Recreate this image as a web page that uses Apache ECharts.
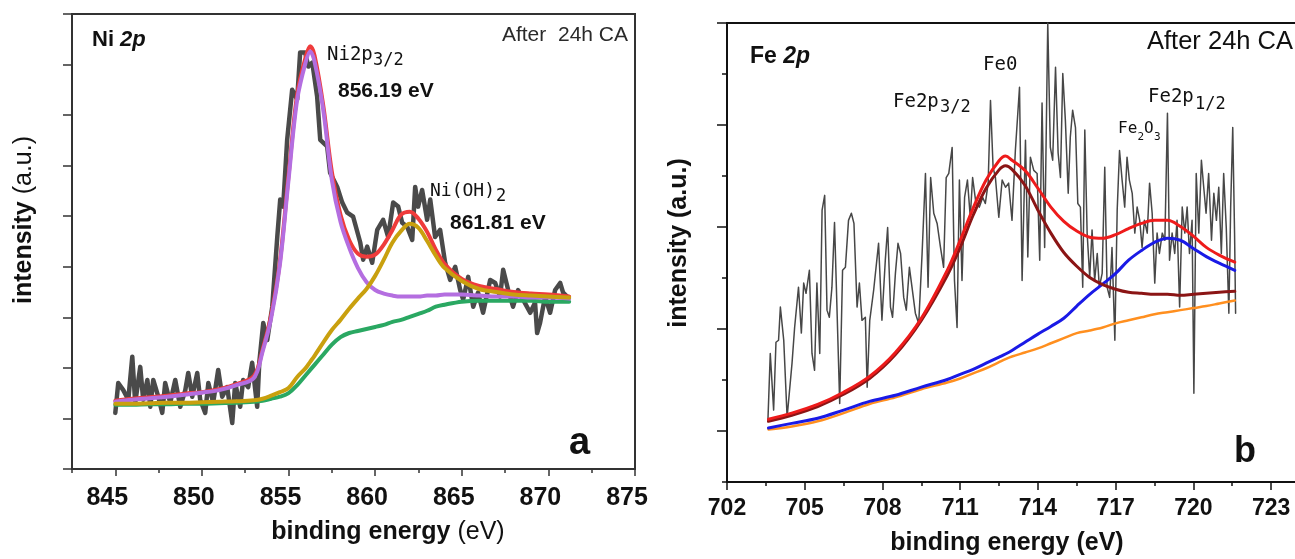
<!DOCTYPE html>
<html>
<head>
<meta charset="utf-8">
<script src="https://cdn.jsdelivr.net/npm/echarts@6/dist/echarts.min.js"></script>
<style>html,body{margin:0;padding:0;background:#fff}#c{width:1295px;height:559px}</style>
</head>
<body>
<div id="c"></div>
<script>
// ---------- Panel a : Ni 2p ----------
const niXTicks = ['845','850','855','860','865','870','875'];
const niDataX = [845.00,845.17,845.46,845.75,845.98,846.15,846.44,846.61,846.85,847.02,
847.19,847.48,847.71,847.88,848.17,848.46,848.75,849.04,849.21,849.44,
849.73,849.90,850.19,850.37,850.65,850.94,851.17,851.46,851.75,851.92,
852.21,852.38,852.67,852.90,853.19,853.31,853.54,853.77,854.06,854.35,
854.52,854.69,854.92,855.21,855.50,855.67,855.96,856.14,856.37,856.65,
856.83,857.23,857.40,857.81,858.10,858.39,858.73,859.14,859.31,859.54,
859.83,860.12,860.46,860.75,861.04,861.33,861.56,861.85,862.14,862.31,
862.48,862.71,863.00,863.18,863.46,863.75,864.04,864.33,864.62,864.91,
865.08,865.37,865.66,865.94,866.23,866.64,866.93,867.21,867.39,867.68,
867.96,868.25,868.54,868.95,869.23,869.35,869.52,869.81,870.10,870.39,
870.68,870.85,871.08];
const niDataY = [1.11,1.70,1.56,1.37,2.22,1.31,2.02,1.37,1.76,1.23,
1.76,1.43,1.11,1.70,1.31,1.76,1.23,1.56,1.90,1.43,
1.90,1.37,1.11,1.70,1.31,1.96,1.43,1.62,0.91,1.70,
1.23,1.76,1.62,2.10,1.23,2.10,2.89,2.55,3.21,4.59,
5.33,5.19,6.51,7.50,7.31,8.24,8.24,7.96,8.04,7.37,
6.51,6.38,5.86,5.58,5.27,5.07,4.99,4.48,4.14,4.40,
4.08,4.73,4.93,4.59,5.27,5.19,4.87,4.79,4.53,5.58,
5.19,5.52,4.93,5.33,4.59,4.73,4.08,3.74,4.00,3.54,
3.35,3.80,3.21,3.49,3.09,3.74,3.68,3.41,3.94,3.54,
3.21,3.54,3.35,3.09,3.29,2.69,2.89,3.41,3.09,3.54,
3.68,3.49,3.41];
const niFitX = [845,846,847,848,849,850,851,852,853,853.5,
854,854.5,855,855.5,856,856.25,856.5,857,857.5,858,
858.5,859,859.5,860,860.5,861,861.5,862,862.5,863,
863.5,864,865,866,867,868,869,870,871.2];
const niPurple = [1.33,1.37,1.40,1.43,1.47,1.51,1.56,1.66,1.80,2.32,
2.99,4.04,5.72,7.31,8.06,8.26,8.06,7.11,5.72,4.89,
4.38,3.98,3.70,3.54,3.47,3.43,3.41,3.41,3.41,3.43,
3.43,3.45,3.45,3.43,3.41,3.41,3.39,3.39,3.37];
const niRed = [1.35,1.39,1.42,1.45,1.49,1.52,1.58,1.68,1.84,2.36,
3.05,4.10,5.80,7.41,8.16,8.36,8.18,7.20,5.88,5.03,
4.53,4.26,4.20,4.24,4.44,4.73,5.03,5.09,4.95,4.69,
4.34,4.06,3.76,3.62,3.56,3.50,3.47,3.45,3.41];
const niGold = [1.29,1.29,1.30,1.31,1.31,1.32,1.33,1.34,1.36,1.39,
1.45,1.52,1.60,1.82,2.00,2.12,2.24,2.50,2.75,2.95,
3.17,3.37,3.56,3.82,4.14,4.48,4.71,4.85,4.77,4.51,
4.22,3.98,3.72,3.56,3.50,3.45,3.43,3.41,3.39];
const niGreen = [1.27,1.27,1.28,1.28,1.29,1.29,1.30,1.31,1.33,1.35,
1.39,1.43,1.50,1.66,1.86,1.96,2.06,2.26,2.46,2.61,
2.69,2.73,2.77,2.81,2.85,2.91,2.95,3.01,3.07,3.13,
3.21,3.25,3.31,3.33,3.33,3.33,3.33,3.31,3.31];

// ---------- Panel b : Fe 2p ----------
const feXTicks = [702,705,708,711,714,717,720,723];
const feDataX = [703.58,703.67,703.80,703.89,703.99,704.06,704.19,704.32,704.51,704.61,
704.76,704.87,704.96,705.05,705.18,705.28,705.38,705.47,705.58,705.67,
705.77,705.86,705.95,706.05,706.15,706.25,706.35,706.46,706.57,706.69,
706.80,706.90,707.02,707.11,707.21,707.34,707.41,707.51,707.66,707.85,
707.98,708.11,708.20,708.31,708.39,708.50,708.60,708.70,708.82,708.92,
709.04,709.14,709.27,709.40,709.53,709.66,709.76,709.86,709.98,710.11,
710.24,710.36,710.46,710.56,710.69,710.78,710.88,710.97,711.07,711.17,
711.28,711.39,711.48,711.61,711.74,711.87,711.97,712.08,712.17,712.27,
712.36,712.49,712.62,712.75,712.87,713.00,713.13,713.29,713.39,713.52,
713.61,713.71,713.84,713.97,714.07,714.16,714.26,714.38,714.48,714.57,
714.68,714.78,714.87,714.96,715.06,715.17,715.25,715.34,715.45,715.54,
715.64,715.73,715.81,715.90,716.00,716.09,716.19,716.29,716.37,716.48,
716.58,716.67,716.77,716.86,716.97,717.06,717.15,717.25,717.35,717.44,
717.53,717.64,717.74,717.83,717.93,718.02,718.11,718.22,718.31,718.41,
718.51,718.60,718.69,718.80,718.90,719.00,719.08,719.18,719.28,719.37,
719.47,719.57,719.67,719.76,719.85,719.95,720.02,720.11,720.21,720.31,
720.40,720.49,720.59,720.70,720.79,720.89,720.98,721.08,721.17,721.27,
721.37,721.44,721.52,721.59,721.63];
const feDataY = [1.21,2.52,1.41,2.74,2.78,3.43,2.78,1.27,2.33,3.03,
3.82,2.92,3.90,3.70,4.15,2.52,2.19,3.90,2.52,5.33,
5.62,3.37,3.23,3.82,5.09,3.31,1.54,4.15,4.21,5.13,
5.27,5.07,3.43,3.90,3.17,3.23,1.86,3.17,3.76,4.68,
3.17,4.35,4.99,3.43,3.23,4.09,4.68,4.48,3.62,3.37,
4.21,3.82,3.31,3.11,4.48,6.05,3.82,5.97,5.27,5.07,
4.60,4.21,5.97,6.05,6.56,3.95,3.03,5.92,3.95,5.58,
5.92,5.19,5.97,5.46,5.39,5.58,5.46,5.86,7.48,6.17,
5.97,5.19,5.92,5.78,5.86,5.13,6.50,7.74,3.95,6.70,
4.41,6.37,6.11,6.05,4.35,7.43,4.60,9.00,6.56,6.31,
8.13,6.45,5.97,8.01,7.09,5.66,6.76,7.29,6.95,5.46,
5.39,3.82,6.90,4.88,4.01,4.94,3.95,4.48,3.82,4.09,
6.17,3.82,3.62,4.60,2.78,5.33,6.50,5.92,5.39,6.37,
5.92,5.66,4.88,5.39,5.13,4.60,5.13,4.88,5.86,5.27,
3.90,4.88,4.48,4.88,4.74,7.23,4.35,4.88,4.48,5.13,
3.43,5.39,4.88,5.39,4.48,5.13,1.74,6.05,4.88,6.31,
5.78,5.27,6.05,4.74,5.66,5.13,5.78,4.48,6.05,4.99,
3.31,5.39,6.95,4.88,3.31];
const feFitX = [703.6,704.5,705.5,706.5,707.5,708.5,709.5,710.5,711.0,711.5,
712.0,712.5,712.75,713.0,713.5,714.0,714.5,715.0,715.5,716.0,716.5,
717.0,717.5,718.0,718.5,719.0,719.5,720.0,720.5,721.0,721.6];
const feOrange = [1.03,1.09,1.19,1.35,1.53,1.66,1.82,1.95,2.03,2.13,
2.23,2.35,2.41,2.46,2.54,2.62,2.72,2.82,2.92,2.97,3.03,
3.11,3.17,3.23,3.29,3.33,3.37,3.41,3.45,3.50,3.56];
const feBlue = [1.06,1.15,1.25,1.41,1.58,1.70,1.86,2.01,2.11,2.21,
2.33,2.45,2.51,2.58,2.74,2.90,3.05,3.21,3.45,3.68,3.88,
4.09,4.35,4.54,4.70,4.78,4.74,4.58,4.42,4.29,4.15];
const feRed = [1.23,1.35,1.52,1.76,2.07,2.54,3.21,4.15,4.74,5.37,
5.92,6.30,6.39,6.31,6.11,5.76,5.39,5.11,4.92,4.80,4.78,
4.85,4.97,5.07,5.13,5.13,5.01,4.82,4.60,4.45,4.31];
const feDarkRed = [1.19,1.31,1.48,1.72,2.03,2.50,3.17,4.05,4.60,5.23,
5.76,6.12,6.20,6.13,5.82,5.33,4.88,4.50,4.23,4.01,3.87,
3.78,3.72,3.70,3.68,3.68,3.66,3.68,3.70,3.72,3.74];

// ---------- helpers ----------
const zip = (xs, ys) => xs.map((x, i) => [x, ys[i]]);
const SANS = '"Liberation Sans", Arial, Helvetica, sans-serif';
const MONO = '"DejaVu Sans Mono", monospace';

// category positions for Ni x-axis (majors every 5, minors in between)
const niStep = 2.5;
const niMin = Number(niXTicks[0]) - niStep;
const niMax = Number(niXTicks[niXTicks.length - 1]);
const niCats = [];
for (let v = niMin; v <= niMax + 1e-9; v += niStep) {
  const s = String(v);
  niCats.push(niXTicks.indexOf(s) >= 0 ? s : '');
}
const feYCats = ['0','1','2','3','4','5','6','7','8','9'];

function fitLine(name, xi, yi, xs, ys, color, width, smooth) {
  return {
    name, type: 'line', xAxisIndex: xi, yAxisIndex: yi,
    data: zip(xs, ys), showSymbol: false, symbol: 'none',
    smooth: smooth, silent: true, animation: false,
    lineStyle: { color: color, width: width, cap: 'round', join: 'round' }
  };
}

function txt(x, y, text, font, opts) {
  opts = opts || {};
  return {
    type: 'text', x: x, y: y, rotation: opts.rotation || 0, silent: true,
    style: {
      text: text, font: font, fill: opts.fill || '#111',
      align: opts.align || 'left', verticalAlign: 'middle',
      textAlign: opts.align || 'left', textVerticalAlign: 'middle',
      rich: opts.rich
    }
  };
}

const axisDark = '#333';
const chart = echarts.init(document.getElementById('c'), null, { renderer: 'canvas' });
chart.setOption({
  animation: false,
  backgroundColor: '#fff',
  grid: [
    { left: 72, top: 14, width: 563, height: 455, show: true, borderColor: axisDark, borderWidth: 2,
      backgroundColor: 'transparent', containLabel: false, outerBoundsMode: 'none' },
    { left: 727, top: 23, width: 570, height: 459, show: true, borderColor: '#111', borderWidth: 2,
      backgroundColor: 'transparent', containLabel: false, outerBoundsMode: 'none' }
  ],
  xAxis: [
    { type: 'value', gridIndex: 0, position: 'bottom', min: niMin, max: niMax, interval: niStep,
      axisLine: { show: true, onZero: false, lineStyle: { color: axisDark, width: 2 } },
      axisTick: { show: true, inside: false, length: 4, lineStyle: { color: axisDark, width: 1.5 } },
      axisLabel: { show: false }, splitLine: { show: false } },
    { type: 'category', gridIndex: 0, position: 'bottom', data: niCats, boundaryGap: false,
      axisLine: { show: false, onZero: false },
      axisTick: { show: true, inside: false, length: 7, interval: (i, v) => v !== '',
        lineStyle: { color: axisDark, width: 1.5 } },
      axisLabel: { show: true, interval: 0, color: '#111', fontFamily: SANS, fontWeight: 'bold',
        fontSize: 25, margin: 16.5, padding: [0, 16, 0, 0] },
      splitLine: { show: false } },
    { type: 'value', gridIndex: 1, position: 'bottom', min: feXTicks[0], max: 724,
      interval: feXTicks[1] - feXTicks[0],
      axisLine: { show: true, onZero: false, lineStyle: { color: '#111', width: 2 } },
      axisTick: { show: true, inside: false, length: 8, lineStyle: { color: '#111', width: 1.5 } },
      axisLabel: { show: true, color: '#111', fontFamily: SANS, fontWeight: 'bold', fontSize: 23,
        margin: 15, showMaxLabel: false, formatter: v => String(v) },
      splitLine: { show: false } },
    { type: 'value', gridIndex: 1, position: 'bottom', min: feXTicks[0], max: 724,
      interval: (feXTicks[1] - feXTicks[0]) / 2,
      axisLine: { show: false, onZero: false },
      axisTick: { show: true, inside: false, length: 4, lineStyle: { color: '#111', width: 1.5 } },
      axisLabel: { show: false }, splitLine: { show: false } }
  ],
  yAxis: [
    { type: 'value', gridIndex: 0, position: 'left', min: 0, max: 9, interval: 1,
      axisLine: { show: true, onZero: false, lineStyle: { color: axisDark, width: 2 } },
      axisTick: { show: true, inside: false, length: 9, lineStyle: { color: axisDark, width: 1.5 } },
      axisLabel: { show: false }, splitLine: { show: false } },
    { type: 'value', gridIndex: 1, position: 'left', min: 0, max: 9, interval: 1,
      axisLine: { show: true, onZero: false, lineStyle: { color: '#111', width: 2 } },
      axisTick: { show: true, inside: false, length: 5, lineStyle: { color: '#111', width: 1.5 } },
      axisLabel: { show: false }, splitLine: { show: false } },
    { type: 'category', gridIndex: 1, position: 'left', data: feYCats, boundaryGap: false,
      axisLine: { show: false, onZero: false },
      axisTick: { show: true, inside: false, length: 10, interval: (i) => i % 2 === 1,
        lineStyle: { color: '#111', width: 1.5 } },
      axisLabel: { show: false }, splitLine: { show: false } }
  ],
  series: [
    fitLine('Ni data', 0, 0, niDataX, niDataY, '#4a4a4a', 4.5, false),
    fitLine('background', 0, 0, niFitX, niGreen, '#2aa862', 4, 0.35),
    fitLine('envelope', 0, 0, niFitX, niRed, '#ef3b3b', 4, 0.35),
    fitLine('Ni2p3/2', 0, 0, niFitX, niPurple, '#b46ee0', 4, 0.35),
    fitLine('Ni(OH)2', 0, 0, niFitX, niGold, '#c9a00e', 4, 0.35),

    fitLine('Fe data', 2, 1, feDataX, feDataY, '#474747', 1.5, false),
    fitLine('Fe background', 2, 1, feFitX, feOrange, '#ff8f1f', 2.5, 0.35),
    fitLine('Fe2O3', 2, 1, feFitX, feBlue, '#1a1ae6', 3, 0.35),
    fitLine('Fe0', 2, 1, feFitX, feDarkRed, '#8b1515', 3, 0.35),
    fitLine('Fe envelope', 2, 1, feFitX, feRed, '#ee1b1b', 3, 0.35)
  ],
  graphic: [
    // panel a
    txt(92, 40, '{a|Ni }{b|2p}', 'bold 22px ' + SANS, { rich: {
      a: { font: 'bold 22px ' + SANS, fill: '#111' },
      b: { font: 'italic bold 22px ' + SANS, fill: '#111' } } }),
    txt(628, 35.5, 'After  24h CA', '21px ' + SANS, { align: 'right', fill: '#2a2a2a' }),
    txt(327, 55, 'Ni2p', '19px ' + MONO),
    txt(373, 61, '3/2', '17px ' + MONO),
    txt(338, 91.5, '856.19 eV', 'bold 21px ' + SANS),
    txt(430, 191, 'Ni(OH)', '18px ' + MONO),
    txt(496, 197, '2', '17px ' + MONO),
    txt(450, 223.5, '861.81 eV', 'bold 21px ' + SANS),
    txt(579.5, 444, 'a', 'bold 38px ' + SANS, { align: 'center' }),
    txt(388, 532, '{b|binding energy} {n|(eV)}', 'bold 25px ' + SANS, { align: 'center', rich: {
      b: { font: 'bold 25px ' + SANS, fill: '#111' },
      n: { font: '25px ' + SANS, fill: '#111' } } }),
    txt(24, 220, '{b|intensity} {n|(a.u.)}', 'bold 25px ' + SANS, { align: 'center', rotation: Math.PI / 2, rich: {
      b: { font: 'bold 25px ' + SANS, fill: '#111' },
      n: { font: '25px ' + SANS, fill: '#111' } } }),
    // panel b
    txt(750, 57, '{a|Fe }{b|2p}', 'bold 23px ' + SANS, { rich: {
      a: { font: 'bold 23px ' + SANS, fill: '#111' },
      b: { font: 'italic bold 23px ' + SANS, fill: '#111' } } }),
    txt(1293, 41.5, 'After 24h CA', '25.5px ' + SANS, { align: 'right', fill: '#111' }),
    txt(983, 65.5, 'Fe0', '19px ' + MONO),
    txt(893, 102.5, 'Fe2p', '19px ' + MONO),
    txt(940, 108, '3/2', '17px ' + MONO),
    txt(1148, 96.7, 'Fe2p', '19px ' + MONO),
    txt(1195, 105, '1/2', '17px ' + MONO),
    txt(1118, 128.5, 'Fe', '16px ' + MONO),
    txt(1137.5, 137, '2', '11px ' + MONO),
    txt(1144, 128.5, 'O', '16px ' + MONO),
    txt(1154, 137, '3', '11px ' + MONO),
    txt(1245, 452.5, 'b', 'bold 36px ' + SANS, { align: 'center' }),
    txt(1007, 543, 'binding energy (eV)', 'bold 25px ' + SANS, { align: 'center' }),
    txt(679, 243, 'intensity (a.u.)', 'bold 25px ' + SANS, { align: 'center', rotation: Math.PI / 2 })
  ]
});
</script>
</body>
</html>
